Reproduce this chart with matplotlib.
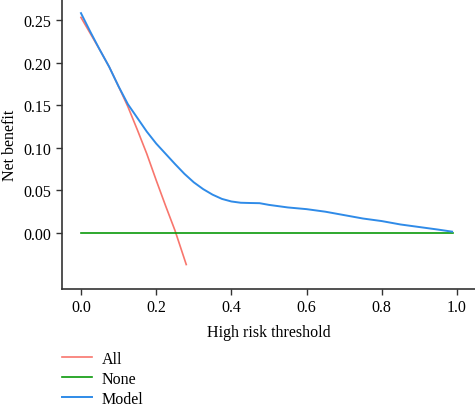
import numpy as np
import matplotlib.pyplot as plt

plt.rcParams['font.family'] = ['Liberation Serif', 'DejaVu Serif']
fontsize = 11.5

# decision curve values
all_x = [0.0, 0.025, 0.05, 0.075, 0.1, 0.125, 0.15, 0.175, 0.2, 0.225, 0.25, 0.28]
all_y = [0.253, 0.234, 0.215, 0.195, 0.172, 0.148, 0.121, 0.093, 0.062, 0.032, 0.003, -0.037]

none_x = [0.0, 0.99]
none_y = [0.0, 0.0]

model_x = [0.0, 0.025, 0.05, 0.075, 0.1, 0.125, 0.15, 0.175, 0.2, 0.225, 0.25, 0.275,
           0.3, 0.325, 0.35, 0.375, 0.4, 0.425, 0.45, 0.475, 0.5, 0.55, 0.6, 0.65,
           0.7, 0.75, 0.8, 0.85, 0.9, 0.95, 0.987]
model_y = [0.258, 0.236, 0.215, 0.195, 0.172, 0.151, 0.135, 0.119, 0.105, 0.093, 0.081, 0.0695,
           0.0595, 0.0515, 0.045, 0.040, 0.037, 0.0355, 0.0352, 0.035, 0.033, 0.030, 0.028, 0.025,
           0.021, 0.017, 0.014, 0.010, 0.007, 0.004, 0.0016]

xticks = [0.0, 0.2, 0.4, 0.6, 0.8, 1.0]
yticks = [0.0, 0.05, 0.10, 0.15, 0.20, 0.25]

fig = plt.figure(figsize=(4.75, 4.1), dpi=100)
ax = fig.add_axes([0.1305, 0.2927, 0.8695, 0.7073])

ax.plot(all_x, all_y, color='#F8766D', lw=1.2, label='All')
ax.plot(none_x, none_y, color='#0A9A0A', lw=1.2, label='None')
ax.plot(model_x, model_y, color='#2F8BE8', lw=1.4, label='Model')

ax.set_xlim(-0.0505, 1.048)
ax.set_ylim(-0.0657, 0.2746)
ax.set_xticks(xticks)
ax.set_xticklabels(['%.1f' % t for t in xticks])
ax.set_yticks(yticks)
ax.set_yticklabels(['%.2f' % t for t in yticks])
ax.tick_params(labelsize=fontsize, length=4, width=1, color='#333333')

for s in ['top', 'right']:
    ax.spines[s].set_visible(False)
for s in ['left', 'bottom']:
    ax.spines[s].set_color('#333333')
    ax.spines[s].set_linewidth(1.2)

ax.set_xlabel('High risk threshold', fontsize=fontsize, labelpad=6)
ax.set_ylabel('Net benefit', fontsize=fontsize)

handles, labels = ax.get_legend_handles_labels()
fig.legend(handles, labels, loc='upper left', bbox_to_anchor=(0.1305, 0.142),
           frameon=False, fontsize=fontsize, borderpad=0, borderaxespad=0,
           handlelength=1.9, labelspacing=0.25, handletextpad=0.6)

fig.savefig('out.png', dpi=100)
